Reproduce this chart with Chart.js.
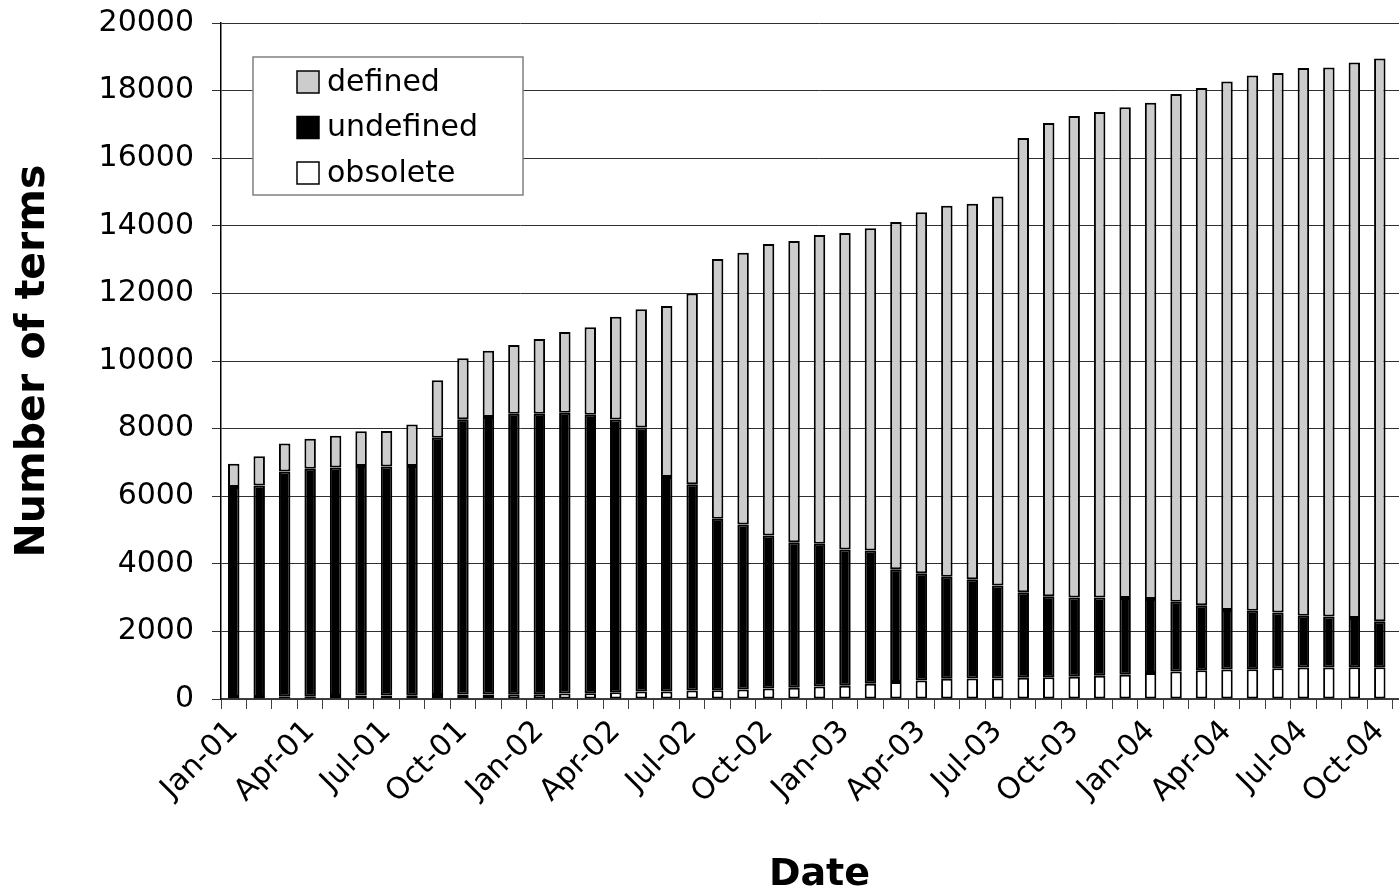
<!DOCTYPE html>
<html>
<head>
<meta charset="utf-8">
<title>Number of terms</title>
<script src="https://cdn.jsdelivr.net/npm/chart.js@4.4.1/dist/chart.umd.min.js"></script>
<style>
    html, body { margin: 0; padding: 0; background: #fff; overflow: hidden; }
    #wrap { width: 1440px; height: 890px; position: relative; }
</style>
</head>
<body>
<div id="wrap"><canvas id="terms-chart"></canvas></div>
<script>
const months = [
    'Jan-01', 'Feb-01', 'Mar-01', 'Apr-01', 'May-01', 'Jun-01', 'Jul-01', 'Aug-01', 'Sep-01', 'Oct-01', 'Nov-01', 'Dec-01',
    'Jan-02', 'Feb-02', 'Mar-02', 'Apr-02', 'May-02', 'Jun-02', 'Jul-02', 'Aug-02', 'Sep-02', 'Oct-02', 'Nov-02', 'Dec-02',
    'Jan-03', 'Feb-03', 'Mar-03', 'Apr-03', 'May-03', 'Jun-03', 'Jul-03', 'Aug-03', 'Sep-03', 'Oct-03', 'Nov-03', 'Dec-03',
    'Jan-04', 'Feb-04', 'Mar-04', 'Apr-04', 'May-04', 'Jun-04', 'Jul-04', 'Aug-04', 'Sep-04', 'Oct-04', 'Nov-04'
];

// only every third month gets a label on the axis
const shownLabels = ['Jan-01', 'Apr-01', 'Jul-01', 'Oct-01', 'Jan-02', 'Apr-02', 'Jul-02', 'Oct-02',
    'Jan-03', 'Apr-03', 'Jul-03', 'Oct-03', 'Jan-04', 'Apr-04', 'Jul-04', 'Oct-04'];

const obsolete = [
    60, 60, 70, 70, 90, 100, 100, 110, 120, 130, 130, 140,
    140, 160, 170, 200, 220, 220, 250, 260, 280, 310, 330, 370,
    390, 450, 500, 550, 600, 610, 610, 630, 640, 660, 690, 720,
    770, 810, 850, 870, 880, 910, 930, 930, 940, 940, 970
];

const undefinedTerms = [
    6210, 6260, 6660, 6740, 6760, 6790, 6780, 6780, 7610, 8150, 8210, 8300,
    8300, 8310, 8240, 8070, 7810, 6350, 6100, 5070, 4880, 4530, 4310, 4220,
    4030, 3940, 3340, 3170, 3020, 2930, 2750, 2530, 2400, 2340, 2310, 2270,
    2190, 2070, 1920, 1760, 1730, 1650, 1530, 1510, 1460, 1360, 1310
];

const defined = [
    690, 860, 830, 890, 940, 1030, 1050, 1230, 1700, 1800, 1960, 2030,
    2210, 2390, 2590, 3040, 3500, 5060, 5650, 7690, 8040, 8620, 8910, 9140,
    9370, 9540, 10270, 10680, 10970, 11110, 11510, 13440, 14000, 14250, 14370, 14520,
    14680, 15020, 15310, 15640, 15840, 15960, 16210, 16240, 16430, 16650, 16820
];

const FONT = "'DejaVu Sans', Verdana, sans-serif";

// legend drawn as a framed box inside the plot area, like the original
const legendBox = {
    id: 'legendBox',
    afterDatasetsDraw(chart) {
        const ctx = chart.ctx;
        const area = chart.chartArea;
        const x = area.left + 32;
        const y = area.top + 34;
        const w = 270;
        const h = 138;
        ctx.save();
        ctx.fillStyle = '#ffffff';
        ctx.fillRect(x, y, w, h);
        ctx.strokeStyle = '#808080';
        ctx.lineWidth = 1.5;
        ctx.strokeRect(x, y, w, h);

        const items = chart.data.datasets.slice().reverse();
        ctx.font = '30px ' + FONT;
        ctx.textBaseline = 'middle';
        items.forEach((ds, i) => {
            const cy = y + 25 + i * 45.5;
            ctx.fillStyle = ds.backgroundColor;
            ctx.fillRect(x + 44, cy - 11, 22, 22);
            ctx.strokeStyle = '#000';
            ctx.lineWidth = 1.5;
            ctx.strokeRect(x + 44, cy - 11, 22, 22);
            ctx.fillStyle = '#000';
            ctx.fillText(ds.label, x + 74, cy + 1);
        });
        ctx.restore();
    }
};

const ctx = document.getElementById('terms-chart').getContext('2d');

const chart = new Chart(ctx, {
    type: 'bar',
    data: {
        labels: months,
        datasets: [
            {
                label: 'obsolete',
                data: obsolete,
                backgroundColor: '#ffffff',
            },
            {
                label: 'undefined',
                data: undefinedTerms,
                backgroundColor: '#000000',
            },
            {
                label: 'defined',
                data: defined,
                backgroundColor: '#cccccc',
            }
        ]
    },
    options: {
        responsive: true,
        maintainAspectRatio: false,
        animation: false,
        layout: {
            padding: { top: 23, right: 22, left: 0, bottom: 0 }
        },
        datasets: {
            bar: {
                borderColor: '#000000',
                borderWidth: 2,
                borderSkipped: false,
                categoryPercentage: 1.0,
                barPercentage: 0.45,
            }
        },
        plugins: {
            legend: { display: false },
            tooltip: { enabled: false },
        },
        scales: {
            x: {
                stacked: true,
                offset: true,
                afterFit(scale) { scale.height = 191; },
                grid: {
                    offset: true,
                    drawOnChartArea: false,
                    drawTicks: true,
                    tickLength: 10,
                    color: '#404040',
                    lineWidth: 1,
                },
                border: { display: true, color: '#404040', width: 1.5 },
                ticks: {
                    autoSkip: false,
                    minRotation: 45,
                    maxRotation: 45,
                    padding: 5,
                    color: '#000',
                    font: { family: FONT, size: 30 },
                    callback(value, index) {
                        const m = months[index];
                        return shownLabels.includes(m) ? m : '';
                    }
                },
                title: {
                    display: true,
                    text: 'Date',
                    color: '#000',
                    font: { family: FONT, size: 38, weight: 'bold', lineHeight: 0.8 },
                    padding: { top: 0, bottom: 0 }
                }
            },
            y: {
                stacked: true,
                min: 0,
                max: 20000,
                afterFit(scale) {
                    scale.width = 221;
                    // keep the label padding from pushing the plot top down
                    scale.paddingTop = 10;
                    scale.paddingBottom = 10;
                },
                grid: {
                    color: '#303030',
                    lineWidth: 1,
                    drawTicks: true,
                    tickLength: 9,
                },
                border: { display: true, color: '#000', width: 1.5 },
                ticks: {
                    stepSize: 2000,
                    padding: 18,
                    color: '#000',
                    font: { family: FONT, size: 30 },
                    callback: (value) => String(value),
                },
                title: {
                    display: true,
                    text: 'Number of terms',
                    color: '#000',
                    font: { family: FONT, size: 41, weight: 'bold' },
                    padding: { top: 9, bottom: 0 }
                }
            }
        }
    },
    plugins: [legendBox]
});
</script>
</body>
</html>
